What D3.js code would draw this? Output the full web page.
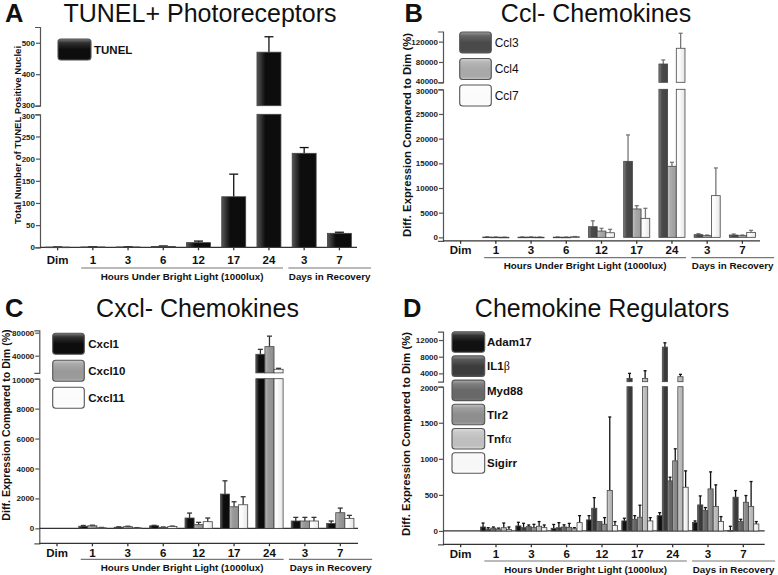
<!DOCTYPE html>
<html>
<head>
<meta charset="utf-8">
<script src="https://cdn.jsdelivr.net/npm/d3@7"></script>
<style>
  body { margin: 0; background: #fff; }
  svg { display: block; font-family: "Liberation Sans", Arial, sans-serif; }
</style>
</head>
<body>
<svg id="chart" width="778" height="575"></svg>
<script>
// shared x categories
const catKeys = ["dim", "h1", "h3", "h6", "h12", "h17", "h24", "d3", "d7"];
const catLabels = ["Dim", "1", "3", "6", "12", "17", "24", "3", "7"];
const hoursLabel = "Hours Under Bright Light (1000lux)";
const daysLabel = "Days in Recovery";

// A - TUNEL
const tunelSeries = ["TUNEL"];
const tunelMean = [0.5, 0.8, 0.8, 2, 10.5, 114, 470, 212, 31.5];
const tunelErr = [0.7, 1, 1, 3, 14, 165, 519, 225, 34];
const tunelTicksLow = [0, 50, 100, 150, 200, 250, 300];
const tunelTicksHigh = [300, 400, 500];

// B - Ccl
const cclSeries = ["Ccl3", "Ccl4", "Ccl7"];
const ccl3Mean = [0, 60, 40, 40, 2150, 15400, 76000, 540, 470];
const ccl3Err = [0, 110, 90, 80, 3350, 20750, 84000, 740, 680];
const ccl4Mean = [0, 40, 50, 30, 1280, 5750, 14400, 340, 340];
const ccl4Err = [0, 70, 80, 60, 1820, 6420, 15200, 470, 470];
const ccl7Mean = [0, 20, 30, 120, 930, 3850, 107000, 8450, 1010];
const ccl7Err = [0, 40, 60, 160, 1620, 5880, 136500, 14060, 1420];
const cclTicksLow = [0, 5000, 10000, 15000, 20000, 25000, 30000];
const cclTicksHigh = [40000, 80000, 120000];

// C - Cxcl
const cxclSeries = ["Cxcl1", "Cxcl10", "Cxcl11"];
const cxcl1Mean = [0, 140, 70, 170, 690, 2290, 42400, 490, 330];
const cxcl1Err = [0, 190, 100, 200, 1020, 3175, 51000, 733, 490];
const cxcl10Mean = [0, 170, 110, 60, 245, 1440, 55700, 490, 1043];
const cxcl10Err = [0, 210, 140, 90, 400, 1776, 74000, 733, 1354];
const cxcl11Mean = [0, 40, 30, 120, 445, 1576, 16300, 490, 666];
const cxcl11Err = [0, 60, 50, 150, 690, 2110, 18000, 733, 866];
const cxclTicksLow = [0, 2000, 4000, 6000, 8000, 10000];
const cxclTicksHigh = [40000, 80000];

// D - regulators
const regSeries = ["Adam17", "IL1β", "Myd88", "Tlr2", "Tnfα", "Sigirr"];
const adam17Mean = [0, 55, 70, 37, 153, 139, 212, 116, 6];
const adam17Err = [0, 110, 120, 90, 212, 176, 254, 139, 65];
const il1bMean = [0, 25, 46, 45, 315, 2800, 10300, 361, 468];
const il1bErr = [0, 45, 106, 115, 462, 4000, 11340, 486, 560];
const myd88Mean = [0, 40, 60, 55, 130, 162, 694, 282, 130];
const myd88Err = [0, 55, 83, 85, 130, 212, 745, 324, 162];
const tlr2Mean = [0, 25, 46, 50, 93, 190, 972, 583, 398];
const tlr2Err = [0, 40, 92, 105, 185, 357, 1139, 819, 491];
const tnfaMean = [0, 45, 65, 30, 560, 2800, 3200, 338, 338];
const tnfaErr = [0, 110, 130, 45, 1580, 4630, 3770, 639, 685];
const sigirrMean = [0, 20, 46, 115, 74, 139, 606, 130, 97];
const sigirrErr = [0, 55, 83, 212, 130, 185, 833, 199, 130];
const regTicksLow = [0, 500, 1000, 1500, 2000];
const regTicksHigh = [4000, 8000, 12000];

const panels = [
  {
    letter: "A", title: "TUNEL+ Photoreceptors", titleX: 200, titleY: 22, letterX: 5,
    yLabel: "Total Number of TUNEL Positive Nuclei", yLabelX: 20.5, yLabelY: 135, yLabelSize: 9.6,
    x0: 40, x1: 357, axisEnd: 357,
    low: { domain: [0, 300], range: [247.3, 114.3], ticks: tunelTicksLow },
    high: { domain: [300, 550], range: [105.7, 27], ticks: tunelTicksHigh },
    series: tunelSeries, means: [tunelMean], errs: [tunelErr], colors: ["#0d0d0d"],
    groupFrac: 0.68, catY: 264, groupLineY: 268, groupTextY: 280, zeroLine: false,
    errColor: "#111", capW: 9,
    legend: { x: 58, y: 39, w: 33, h: 21, gap: 26, textX: 94, bold: true, size: 11.5 }
  },
  {
    letter: "B", title: "Ccl- Chemokines", titleX: 596, titleY: 22, letterX: 404.5,
    yLabel: "Diff. Expression Compared to Dim (%)", yLabelX: 410.5, yLabelY: 135, yLabelSize: 11.3,
    x0: 443, x1: 760, axisEnd: 760,
    low: { domain: [-700, 30000], range: [240.8, 89.3], ticks: cclTicksLow },
    high: { domain: [40000, 140000], range: [82.3, 31.5], ticks: cclTicksHigh },
    series: cclSeries, means: [ccl3Mean, ccl4Mean, ccl7Mean], errs: [ccl3Err, ccl4Err, ccl7Err],
    colors: ["#4a4a4a", "#a9a9a9", "#fbfbfb"],
    groupFrac: 0.74, catY: 254, groupLineY: 257.7, groupTextY: 268.5, zeroLine: false,
    errColor: "#777", capW: 4,
    legend: { x: 459.7, y: 32, w: 31.6, h: 21, gap: 26.5, textX: 494.7, bold: false, size: 12 }
  },
  {
    letter: "C", title: "Cxcl- Chemokines", titleX: 197.5, titleY: 317, letterX: 5,
    yLabel: "Diff. Expression Compared to Dim (%)", yLabelX: 9.5, yLabelY: 425, yLabelSize: 10.6,
    x0: 39.3, x1: 358, axisEnd: 358,
    low: { domain: [-1000, 10000], range: [543.3, 378.7], ticks: cxclTicksLow },
    high: { domain: [10000, 84000], range: [372.9, 330.4], ticks: cxclTicksHigh },
    series: cxclSeries, means: [cxcl1Mean, cxcl10Mean, cxcl11Mean], errs: [cxcl1Err, cxcl10Err, cxcl11Err],
    colors: ["#0d0d0d", "#9a9a9a", "#fbfbfb"],
    groupFrac: 0.77, catY: 556.7, groupLineY: 559.3, groupTextY: 570.5, zeroLine: true,
    errColor: "#333", capW: 5,
    legend: { x: 52.7, y: 333.3, w: 31.6, h: 21, gap: 27, textX: 88.3, bold: true, size: 11.5 }
  },
  {
    letter: "D", title: "Chemokine Regulators", titleX: 602, titleY: 317, letterX: 403,
    yLabel: "Diff. Expression Compared to Dim (%)", yLabelX: 409.7, yLabelY: 434, yLabelSize: 11.3,
    x0: 443, x1: 761, axisEnd: 764.7,
    low: { domain: [-185, 2000], range: [544.3, 386.7], ticks: regTicksLow },
    high: { domain: [2000, 14000], range: [381.7, 331.7], ticks: regTicksHigh },
    series: regSeries,
    means: [adam17Mean, il1bMean, myd88Mean, tlr2Mean, tnfaMean, sigirrMean],
    errs: [adam17Err, il1bErr, myd88Err, tlr2Err, tnfaErr, sigirrErr],
    colors: ["#111111", "#3c3c3c", "#686868", "#8e8e8e", "#bfbfbf", "#f7f7f7"],
    groupFrac: 0.88, catY: 557.7, groupLineY: 561, groupTextY: 572.5, zeroLine: true,
    errColor: "#111", capW: 3,
    legend: { x: 452, y: 331.7, w: 32.7, h: 20.5, gap: 24.2, textX: 487, bold: true, size: 11.5 }
  }
];

const svg = d3.select("#chart");
const defs = svg.append("defs");

// gradients: horizontal for bars, vertical (glossy) for legend boxes
function makeGradients(id, base) {
  const c = d3.color(base);
  const light = d3.interpolateRgb(base, "#fff");
  const dark = c.darker(0.25).formatHex();
  const h = defs.append("linearGradient").attr("id", "hg" + id)
    .attr("x1", 0).attr("x2", 1).attr("y1", 0).attr("y2", 0);
  h.append("stop").attr("offset", "0%").attr("stop-color", light(0.3));
  h.append("stop").attr("offset", "35%").attr("stop-color", base);
  h.append("stop").attr("offset", "100%").attr("stop-color", dark);

  const v = defs.append("linearGradient").attr("id", "vg" + id)
    .attr("x1", 0).attr("x2", 0).attr("y1", 0).attr("y2", 1);
  v.append("stop").attr("offset", "0%").attr("stop-color", light(0.45));
  v.append("stop").attr("offset", "18%").attr("stop-color", light(0.15));
  v.append("stop").attr("offset", "50%").attr("stop-color", base);
  v.append("stop").attr("offset", "85%").attr("stop-color", base);
  v.append("stop").attr("offset", "100%").attr("stop-color", c.brighter(0.4).formatHex());
}

// series label, greek letter in a serif face
function addLabel(sel, label, bold) {
  const m = label.match(/^(.*?)([α-ω])$/);
  if (m) {
    sel.append("tspan").attr("font-weight", bold ? "bold" : "normal").text(m[1]);
    sel.append("tspan").attr("font-family", "'Liberation Serif', 'DejaVu Serif', serif")
      .attr("font-weight", "normal").attr("font-size", "1.05em").text(m[2]);
  } else {
    sel.attr("font-weight", bold ? "bold" : "normal").text(label);
  }
}

panels.forEach((p, pi) => {
  const g = svg.append("g");

  p.colors.forEach((c, si) => makeGradients(`p${pi}s${si}`, c));

  // titles
  g.append("text").attr("x", p.letterX).attr("y", p.titleY)
    .attr("font-size", 25.5).attr("font-weight", "bold").attr("fill", "#111").text(p.letter);
  g.append("text").attr("x", p.titleX).attr("y", p.titleY)
    .attr("text-anchor", "middle").attr("font-size", 25).attr("fill", "#111").text(p.title);

  const x = d3.scaleBand().domain(catKeys).range([p.x0, p.x1]);
  const step = x.step();
  const xs = d3.scaleBand().domain(p.series)
    .range([0, step * p.groupFrac]);
  const off = (step - step * p.groupFrac) / 2;

  const yLow = d3.scaleLinear().domain(p.low.domain).range(p.low.range);
  const yHigh = d3.scaleLinear().domain(p.high.domain).range(p.high.range);
  const breakV = p.low.domain[1];
  const yv = v => (v <= breakV ? yLow(v) : yHigh(v));

  // y axis segments; labels next to the break nudged apart
  const fmt = d3.format("d");
  [[yLow, p.low.ticks, 1], [yHigh, p.high.ticks, -1]].forEach(([sc, ticks, dir]) => {
    const ax = g.append("g").attr("transform", `translate(${p.x0},0)`)
      .call(d3.axisLeft(sc).tickValues(ticks).tickFormat(fmt).tickSize(4).tickSizeOuter(5).tickPadding(1));
    ax.selectAll("path, line").attr("stroke", "#555").attr("stroke-width", 1.2);
    ax.selectAll("text").attr("font-size", 8).attr("font-weight", "bold")
      .attr("fill", "#222").attr("font-family", "'Liberation Sans', Arial, sans-serif")
      .attr("y", d => (Math.abs(sc(d) - (dir > 0 ? yLow(breakV) : yHigh(p.high.domain[0]))) < 1 ? dir * 1.2 : 0));
  });

  // y label
  g.append("text")
    .attr("transform", `translate(${p.yLabelX},${p.yLabelY}) rotate(-90)`)
    .attr("text-anchor", "middle").attr("font-size", p.yLabelSize)
    .attr("font-weight", "bold").attr("fill", "#111").text(p.yLabel);

  // x axis
  const yBase = yLow(p.low.domain[0]);
  const xa = g.append("g").attr("transform", `translate(0,${yBase})`)
    .call(d3.axisBottom(x).tickSize(3).tickSizeOuter(0).tickFormat((d, i) => catLabels[i]));
  xa.select(".domain").attr("d", `M${p.x0},0H${p.axisEnd}`);
  xa.selectAll("path, line").attr("stroke", "#333").attr("stroke-width", 1.3);
  xa.selectAll("text").attr("y", p.catY - yBase).attr("dy", null)
    .attr("font-size", 11.5).attr("font-weight", "bold").attr("fill", "#111")
    .attr("font-family", "'Liberation Sans', Arial, sans-serif");

  if (p.zeroLine) {
    g.append("line").attr("x1", p.x0).attr("x2", p.axisEnd)
      .attr("y1", yLow(0)).attr("y2", yLow(0))
      .attr("stroke", "#333").attr("stroke-width", 1.2);
  }

  // group brackets under the axis
  const cx = k => x(k) + step / 2;
  const groups = [
    { label: hoursLabel, a: cx("h1") - 0.33 * step, b: cx("h24") + 0.4 * step },
    { label: daysLabel, a: cx("d3") - 0.45 * step, b: cx("d7") + 0.9 * step }
  ];
  groups.forEach(gr => {
    g.append("line").attr("x1", gr.a).attr("x2", gr.b)
      .attr("y1", p.groupLineY).attr("y2", p.groupLineY)
      .attr("stroke", "#777").attr("stroke-width", 1.2);
    g.append("text").attr("x", (gr.a + gr.b) / 2).attr("y", p.groupTextY)
      .attr("text-anchor", "middle").attr("font-size", 9.8)
      .attr("font-weight", "bold").attr("fill", "#111").text(gr.label);
  });

  // bars
  p.series.forEach((s, si) => {
    const rows = catKeys.map((k, i) => ({ k, v: p.means[si][i], e: p.errs[si][i] }));
    const sg = g.append("g");
    const bx = d => x(d.k) + off + xs(s);
    const bw = xs.bandwidth();

    // error bars (upward only)
    const eb = rows.filter(d => d.e > d.v);
    sg.selectAll("line.err").data(eb).join("line").attr("class", "err")
      .attr("x1", d => bx(d) + bw / 2).attr("x2", d => bx(d) + bw / 2)
      .attr("y1", d => yv(d.v)).attr("y2", d => yv(d.e))
      .attr("stroke", p.errColor).attr("stroke-width", 1.3);
    sg.selectAll("line.cap").data(eb).join("line").attr("class", "cap")
      .attr("x1", d => bx(d) + bw / 2 - p.capW / 2).attr("x2", d => bx(d) + bw / 2 + p.capW / 2)
      .attr("y1", d => yv(d.e)).attr("y2", d => yv(d.e))
      .attr("stroke", p.errColor).attr("stroke-width", 1.3);

    // split each bar into segments across the break
    const segs = [];
    rows.filter(d => d.v > 0).forEach(d => {
      if (d.v <= breakV) {
        segs.push({ d, y0: yLow(0), y1: yLow(d.v) });
      } else {
        segs.push({ d, y0: yLow(0), y1: yLow(breakV) });
        segs.push({ d, y0: yHigh(p.high.domain[0]), y1: yHigh(d.v) });
      }
    });
    sg.selectAll("rect").data(segs).join("rect")
      .attr("x", s2 => bx(s2.d)).attr("width", bw)
      .attr("y", s2 => s2.y1).attr("height", s2 => Math.max(0.6, s2.y0 - s2.y1))
      .attr("fill", `url(#hgp${pi}s${si})`)
      .attr("stroke", "#444").attr("stroke-width", 0.8);
  });

  // legend
  const L = p.legend;
  p.series.forEach((s, si) => {
    const y = L.y + si * L.gap;
    g.append("rect").attr("x", L.x).attr("y", y).attr("width", L.w).attr("height", L.h)
      .attr("rx", 3).attr("fill", `url(#vgp${pi}s${si})`)
      .attr("stroke", "#555").attr("stroke-width", 1.1);
    const t = g.append("text").attr("x", L.textX).attr("y", y + L.h / 2 + 4.2)
      .attr("font-size", L.size).attr("fill", "#111");
    addLabel(t, s, L.bold);
  });
});
</script>
</body>
</html>
